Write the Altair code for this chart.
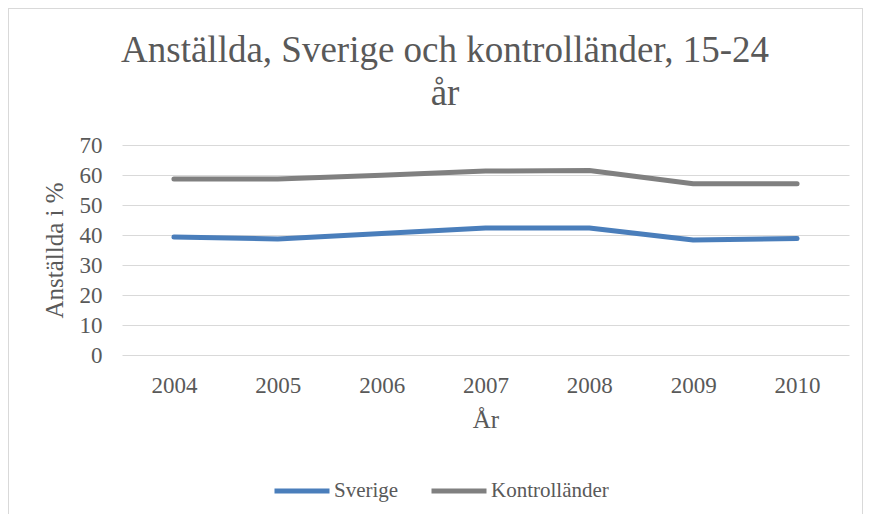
import altair as alt
import pandas as pd

years = ["2004", "2005", "2006", "2007", "2008", "2009", "2010"]
sverige = [39.3, 38.7, 40.5, 42.3, 42.3, 38.3, 38.8]
kontroll = [58.7, 58.7, 59.9, 61.3, 61.5, 57.1, 57.1]
series_names = ["Sverige", "Kontrolländer"]
series_colors = ["#4a7ebb", "#808080"]
y_ticks = [0, 10, 20, 30, 40, 50, 60, 70]
title_lines = ["Anställda, Sverige och kontrolländer, 15-24", "år"]

rows = []
for name, vals in zip(series_names, [sverige, kontroll]):
    for yr, v in zip(years, vals):
        rows.append({"År": yr, "Värde": v, "Serie": name})
df = pd.DataFrame(rows)

FONT = "Liberation Serif"
TXT = "#595959"

lines = alt.Chart(df).mark_line(strokeWidth=5, strokeCap="round", strokeJoin="round").encode(
    x=alt.X("År:O", sort=years, scale=alt.Scale(padding=0.5),
            axis=alt.Axis(title="År", labelAngle=0, ticks=False, domain=False, grid=False,
                          labelPadding=19, titlePadding=10, labelFontSize=23, titleFontSize=25,
                          labelColor=TXT, titleColor=TXT, labelFont=FONT, titleFont=FONT,
                          titleFontWeight="normal")),
    y=alt.Y("Värde:Q", scale=alt.Scale(domain=[0, 70], nice=False),
            axis=alt.Axis(title="Anställda i %", values=y_ticks, ticks=False, domain=False,
                          gridColor="#d9d9d9", gridWidth=1, labelPadding=20,
                          labelFontSize=23, titleFontSize=25, labelColor=TXT, titleColor=TXT,
                          labelFont=FONT, titleFont=FONT, titleFontWeight="normal",
                          titlePadding=12)),
    color=alt.Color("Serie:N", sort=series_names,
                    scale=alt.Scale(domain=series_names, range=series_colors),
                    legend=alt.Legend(title=None, orient="none", direction="horizontal",
                                      legendX=150, legendY=316, symbolType="stroke",
                                      symbolSize=3025, symbolStrokeWidth=5, labelOffset=2,
                                      columnPadding=22, labelFontSize=21, labelColor=TXT,
                                      labelFont=FONT, padding=0)),
)

border = alt.Chart(df).mark_rect(fillOpacity=0, stroke="#d9d9d9", strokeWidth=1).encode(
    x=alt.value(-113.5), x2=alt.value(740.5), y=alt.value(-136.5), y2=alt.value(400)
)

title1 = alt.Chart(pd.DataFrame({"t": [title_lines[0]]})).mark_text(
    font=FONT, fontSize=37, color=TXT, align="center", baseline="alphabetic"
).encode(text="t:N", x=alt.value(323), y=alt.value(-83))

title2 = alt.Chart(pd.DataFrame({"t": [title_lines[1]]})).mark_text(
    font=FONT, fontSize=37, color=TXT, align="center", baseline="alphabetic"
).encode(text="t:N", x=alt.value(323), y=alt.value(-40))

chart = alt.layer(border, lines, title1, title2).properties(
    width=727, height=210,
    padding={"left": 114, "top": 137, "right": 14, "bottom": 159},
    autosize=alt.AutoSizeParams(type="none"),
).configure_view(stroke=None)

chart.save("out.html", embed_options={"renderer": "svg", "actions": False})
